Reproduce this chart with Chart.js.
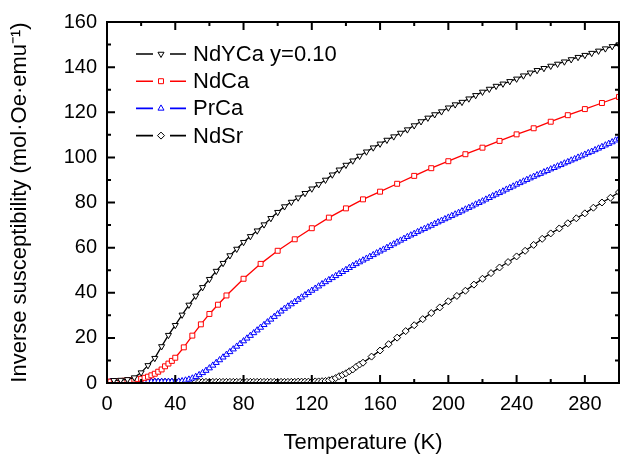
<!DOCTYPE html>
<html>
<head>
<meta charset="utf-8">
<script src="https://cdn.jsdelivr.net/npm/chart.js@4.4.1/dist/chart.umd.min.js"></script>
<style>
  html, body { margin: 0; padding: 0; background: #fff; }
  #wrap { width: 624px; height: 461px; }
</style>
</head>
<body>
<div id="wrap"><canvas id="chart" width="624" height="461"></canvas></div>
<script>
// Data (T in K, inverse susceptibility in mol·Oe·emu^-1)
const ndycaT = [4, 8, 12, 16, 20, 24, 28, 32, 36, 40, 44, 48, 52, 56, 60, 64, 68, 72, 76, 80,
  84, 88, 92, 96, 100, 104, 108, 112, 116, 120, 124, 128, 132, 136, 140, 144, 148, 152, 156, 160,
  164, 168, 172, 176, 180, 184, 188, 192, 196, 200, 204, 208, 212, 216, 220, 224, 228, 232, 236, 240,
  244, 248, 252, 256, 260, 264, 268, 272, 276, 280, 284, 288, 292, 296, 300];
const ndycaV = [1.2, 1.3, 1.6, 2.4, 4.6, 7.8, 11.0, 16.2, 21.2, 25.6, 30.2, 34.6, 38.6, 42.4, 46.0, 49.6, 53.1, 56.5, 59.4, 62.4,
  65.0, 67.5, 70.2, 73.0, 75.7, 78.2, 80.2, 82.1, 84.1, 86.1, 88.0, 90.0, 92.3, 94.5, 96.6, 98.5, 100.6, 102.5, 104.3, 106.0,
  107.7, 109.2, 110.8, 112.3, 114.1, 115.9, 117.5, 119.0, 120.3, 122.0, 123.4, 124.5, 126.0, 127.5, 129.0, 130.3, 131.6, 132.6, 133.7, 134.8,
  136.2, 137.5, 138.6, 139.5, 140.5, 141.4, 142.4, 143.4, 144.4, 145.3, 146.2, 147.2, 148.2, 149.2, 150.0];

const ndcaT = [0.5, 2, 4, 6, 8, 10, 12, 14, 16, 18, 20, 22, 24, 26, 28, 30, 32, 34, 36, 38, 40,
  45, 50, 55, 60, 65, 70, 80, 90, 100, 110, 120, 130, 140, 150, 160, 170, 180, 190, 200,
  210, 220, 230, 240, 250, 260, 270, 280, 290, 300];
const ndcaV = [0.5, 0.6, 0.7, 0.8, 0.9, 1.0, 1.1, 1.3, 1.5, 1.7, 1.9, 2.3, 2.8, 3.4, 4.1, 5.0, 6.0, 7.4, 8.6, 9.8, 11.2,
  15.8, 21.0, 26.0, 30.6, 34.7, 38.8, 46.2, 52.8, 58.6, 63.7, 68.6, 73.3, 77.4, 81.4, 84.8, 88.3, 91.8, 95.2, 98.3,
  101.4, 104.3, 107.3, 110.2, 112.9, 115.8, 118.7, 121.4, 124.1, 126.8];

const prcaT = [2, 4, 6, 8, 10, 12, 14, 16, 18, 20, 22, 24, 26, 28, 30, 32, 34, 36, 38, 40,
  42, 44, 46, 48, 50, 52, 54, 56, 58, 60, 62, 64, 66, 68, 70, 72, 74, 76, 78, 80,
  82, 84, 86, 88, 90, 92, 94, 96, 98, 100, 102, 104, 106, 108, 110, 112, 114, 116, 118, 120,
  122, 124, 126, 128, 130, 132, 134, 136, 138, 140, 142, 144, 146, 148, 150, 152, 154, 156, 158, 160,
  162, 164, 166, 168, 170, 172, 174, 176, 178, 180, 182, 184, 186, 188, 190, 192, 194, 196, 198, 200,
  202, 204, 206, 208, 210, 212, 214, 216, 218, 220, 222, 224, 226, 228, 230, 232, 234, 236, 238, 240,
  242, 244, 246, 248, 250, 252, 254, 256, 258, 260, 262, 264, 266, 268, 270, 272, 274, 276, 278, 280,
  282, 284, 286, 288, 290, 292, 294, 296, 298, 300];
const prcaV = [0.6, 0.6, 0.6, 0.6, 0.6, 0.6, 0.6, 0.6, 0.6, 0.6, 0.6, 0.6, 0.6, 0.6, 0.6, 0.6, 0.6, 0.6, 0.6, 0.6,
  0.7, 0.9, 1.2, 1.6, 2.1, 2.8, 3.6, 4.5, 5.5, 6.6, 7.8, 9.0, 10.2, 11.4, 12.6, 13.8, 15.0, 16.2, 17.4, 18.6,
  19.8, 21.0, 22.2, 23.4, 24.6, 25.8, 27.0, 28.2, 29.4, 30.6, 31.8, 33.0, 34.0, 35.0, 36.0, 37.0, 38.0, 39.0, 40.0, 41.0,
  41.9, 42.9, 43.9, 44.8, 45.7, 46.6, 47.5, 48.4, 49.3, 50.2, 51.1, 52.0, 52.8, 53.6, 54.4, 55.2, 56.0, 56.8, 57.6, 58.4,
  59.2, 60.0, 60.8, 61.6, 62.4, 63.2, 64.0, 64.8, 65.5, 66.2, 67.0, 67.7, 68.4, 69.1, 69.8, 70.6, 71.3, 72.0, 72.7, 73.4,
  74.1, 74.8, 75.5, 76.2, 77.0, 77.7, 78.4, 79.2, 79.9, 80.6, 81.4, 82.1, 82.9, 83.6, 84.3, 85.0, 85.8, 86.5, 87.2, 88.0,
  88.7, 89.4, 90.1, 90.8, 91.5, 92.2, 92.8, 93.5, 94.1, 94.8, 95.4, 96.1, 96.7, 97.4, 98.0, 98.7, 99.3, 100.0, 100.6, 101.3,
  102.0, 102.6, 103.3, 104.0, 104.7, 105.4, 106.1, 106.8, 107.6, 108.4];

const ndsrT = [2, 4, 6, 8, 10, 12, 14, 16, 18, 20, 22, 24, 26, 28, 30, 32, 34, 36, 38, 40,
  42, 44, 46, 48, 50, 52, 54, 56, 58, 60, 62, 64, 66, 68, 70, 72, 74, 76, 78, 80,
  82, 84, 86, 88, 90, 92, 94, 96, 98, 100, 102, 104, 106, 108, 110, 112, 114, 116, 118, 120,
  122, 124, 126, 128, 130, 132, 134, 136, 138, 140, 142, 144, 146, 148, 150,
  155, 160, 165, 170, 175, 180, 185, 190, 195, 200, 205, 210, 215, 220, 225, 230, 235, 240, 245, 250,
  255, 260, 265, 270, 275, 280, 285, 290, 295, 300];
const ndsrV = [0.5, 0.5, 0.5, 0.5, 0.5, 0.5, 0.5, 0.5, 0.5, 0.5, 0.5, 0.5, 0.5, 0.5, 0.5, 0.5, 0.5, 0.5, 0.5, 0.5,
  0.5, 0.5, 0.5, 0.5, 0.5, 0.5, 0.5, 0.5, 0.5, 0.5, 0.5, 0.5, 0.5, 0.5, 0.5, 0.5, 0.5, 0.5, 0.5, 0.5,
  0.5, 0.5, 0.5, 0.5, 0.5, 0.5, 0.5, 0.5, 0.5, 0.5, 0.5, 0.5, 0.5, 0.5, 0.5, 0.6, 0.6, 0.6, 0.6, 0.6,
  0.7, 0.7, 0.8, 0.9, 1.2, 1.6, 2.2, 3.0, 3.6, 4.3, 5.2, 6.0, 7.2, 8.2, 9.0,
  11.7, 14.4, 17.2, 20.1, 23.0, 25.6, 28.3, 31.0, 33.5, 36.2, 38.6, 40.9, 43.6, 46.2, 48.7, 51.2, 53.6, 56.1, 58.6, 61.2,
  63.9, 66.3, 68.5, 70.8, 73.0, 75.2, 77.7, 80.0, 82.1, 84.6];

const seriesNames = ['NdYCa y=0.10', 'NdCa', 'PrCa', 'NdSr'];

// Axis ticks
const xTickValues = [0, 40, 80, 120, 160, 200, 240, 280];
const xMinorValues = [20, 60, 100, 140, 180, 220, 260];
const yTickValues = [0, 20, 40, 60, 80, 100, 120, 140, 160];
const yMinorValues = [10, 30, 50, 70, 90, 110, 130, 150];

const FONT = "'Liberation Sans', Arial, Helvetica, sans-serif";

function pts(xs, ys) {
  return xs.map((x, i) => ({ x: x, y: ys[i] }));
}

function series(label, xs, ys, color, style, rotation) {
  return {
    label: label,
    data: pts(xs, ys),
    borderColor: color,
    borderWidth: 1.3,
    pointStyle: style,
    pointRotation: rotation || 0,
    pointRadius: 3.5,
    pointBorderWidth: 1,
    pointBorderColor: color,
    pointBackgroundColor: '#fff',
    tension: 0,
    fill: false
  };
}

// Box frame with inward major/minor ticks on all four sides, plus legend
const framePlugin = {
  id: 'frame',
  afterDraw(chart) {
    const ctx = chart.ctx;
    const a = chart.chartArea;
    const xs = chart.scales.x, ys = chart.scales.y;
    ctx.save();
    ctx.strokeStyle = '#000';
    ctx.lineWidth = 2;
    ctx.beginPath();
    const tick = (x1, y1, x2, y2) => { ctx.moveTo(x1, y1); ctx.lineTo(x2, y2); };
    xTickValues.forEach(v => {
      const p = xs.getPixelForValue(v);
      tick(p, a.bottom, p, a.bottom - 8);
      tick(p, a.top, p, a.top + 8);
    });
    xMinorValues.forEach(v => {
      const p = xs.getPixelForValue(v);
      tick(p, a.bottom, p, a.bottom - 4);
      tick(p, a.top, p, a.top + 4);
    });
    yTickValues.forEach(v => {
      const p = ys.getPixelForValue(v);
      tick(a.left, p, a.left + 8, p);
      tick(a.right, p, a.right - 8, p);
    });
    yMinorValues.forEach(v => {
      const p = ys.getPixelForValue(v);
      tick(a.left, p, a.left + 4, p);
      tick(a.right, p, a.right - 4, p);
    });
    ctx.stroke();
    ctx.strokeRect(a.left, a.top, a.right - a.left, a.bottom - a.top);

    // legend: line - marker - line, then label
    ctx.font = '22px ' + FONT;
    ctx.textBaseline = 'middle';
    ctx.fillStyle = '#000';
    chart.data.datasets.forEach((ds, i) => {
      const y = 54 + i * 27.2;
      ctx.strokeStyle = ds.borderColor;
      ctx.lineWidth = 1.6;
      ctx.beginPath();
      ctx.moveTo(136, y); ctx.lineTo(153, y);
      ctx.moveTo(170, y); ctx.lineTo(186, y);
      ctx.stroke();
      ctx.fillStyle = '#fff';
      ctx.strokeStyle = ds.pointBorderColor;
      ctx.lineWidth = 1;
      Chart.helpers.drawPoint(ctx, {
        pointStyle: ds.pointStyle, rotation: ds.pointRotation, radius: 3.5, borderWidth: 1
      }, 161, y);
      ctx.fillStyle = '#000';
      ctx.fillText(ds.label, 193, y + 1);
    });
    ctx.restore();
  }
};

new Chart(document.getElementById('chart'), {
  type: 'line',
  data: {
    datasets: [
      series(seriesNames[0], ndycaT, ndycaV, '#000000', 'triangle', 180),
      series(seriesNames[1], ndcaT, ndcaV, '#ff0000', 'rect'),
      series(seriesNames[2], prcaT, prcaV, '#0000ff', 'triangle'),
      series(seriesNames[3], ndsrT, ndsrV, '#000000', 'rectRot')
    ]
  },
  options: {
    responsive: false,
    animation: false,
    layout: { padding: { top: 20, right: 3, left: 0, bottom: 0 } },
    plugins: { legend: { display: false }, tooltip: { enabled: false } },
    scales: {
      x: {
        type: 'linear', min: 0, max: 300,
        grid: { display: false, drawTicks: false },
        border: { display: false },
        afterBuildTicks: s => { s.ticks = xTickValues.map(v => ({ value: v })); },
        afterFit: s => { s.height = 78; },
        ticks: { padding: 9, maxRotation: 0, color: '#000', font: { family: FONT, size: 20 } },
        title: { display: true, text: 'Temperature (K)', color: '#000',
                 font: { family: FONT, size: 22 }, padding: { top: 0, bottom: 5 } }
      },
      y: {
        type: 'linear', min: 0, max: 160,
        grid: { display: false, drawTicks: false },
        border: { display: false },
        afterBuildTicks: s => { s.ticks = yTickValues.map(v => ({ value: v })); },
        afterFit: s => { s.width = 107; },
        ticks: { padding: 10, color: '#000', font: { family: FONT, size: 20 } },
        title: { display: true, text: 'Inverse susceptibility (mol\u00b7Oe\u00b7emu\u207b\u00b9)', color: '#000',
                 font: { family: FONT, size: 22 }, padding: { top: 7, bottom: 0 } }
      }
    }
  },
  plugins: [framePlugin]
});
</script>
</body>
</html>
